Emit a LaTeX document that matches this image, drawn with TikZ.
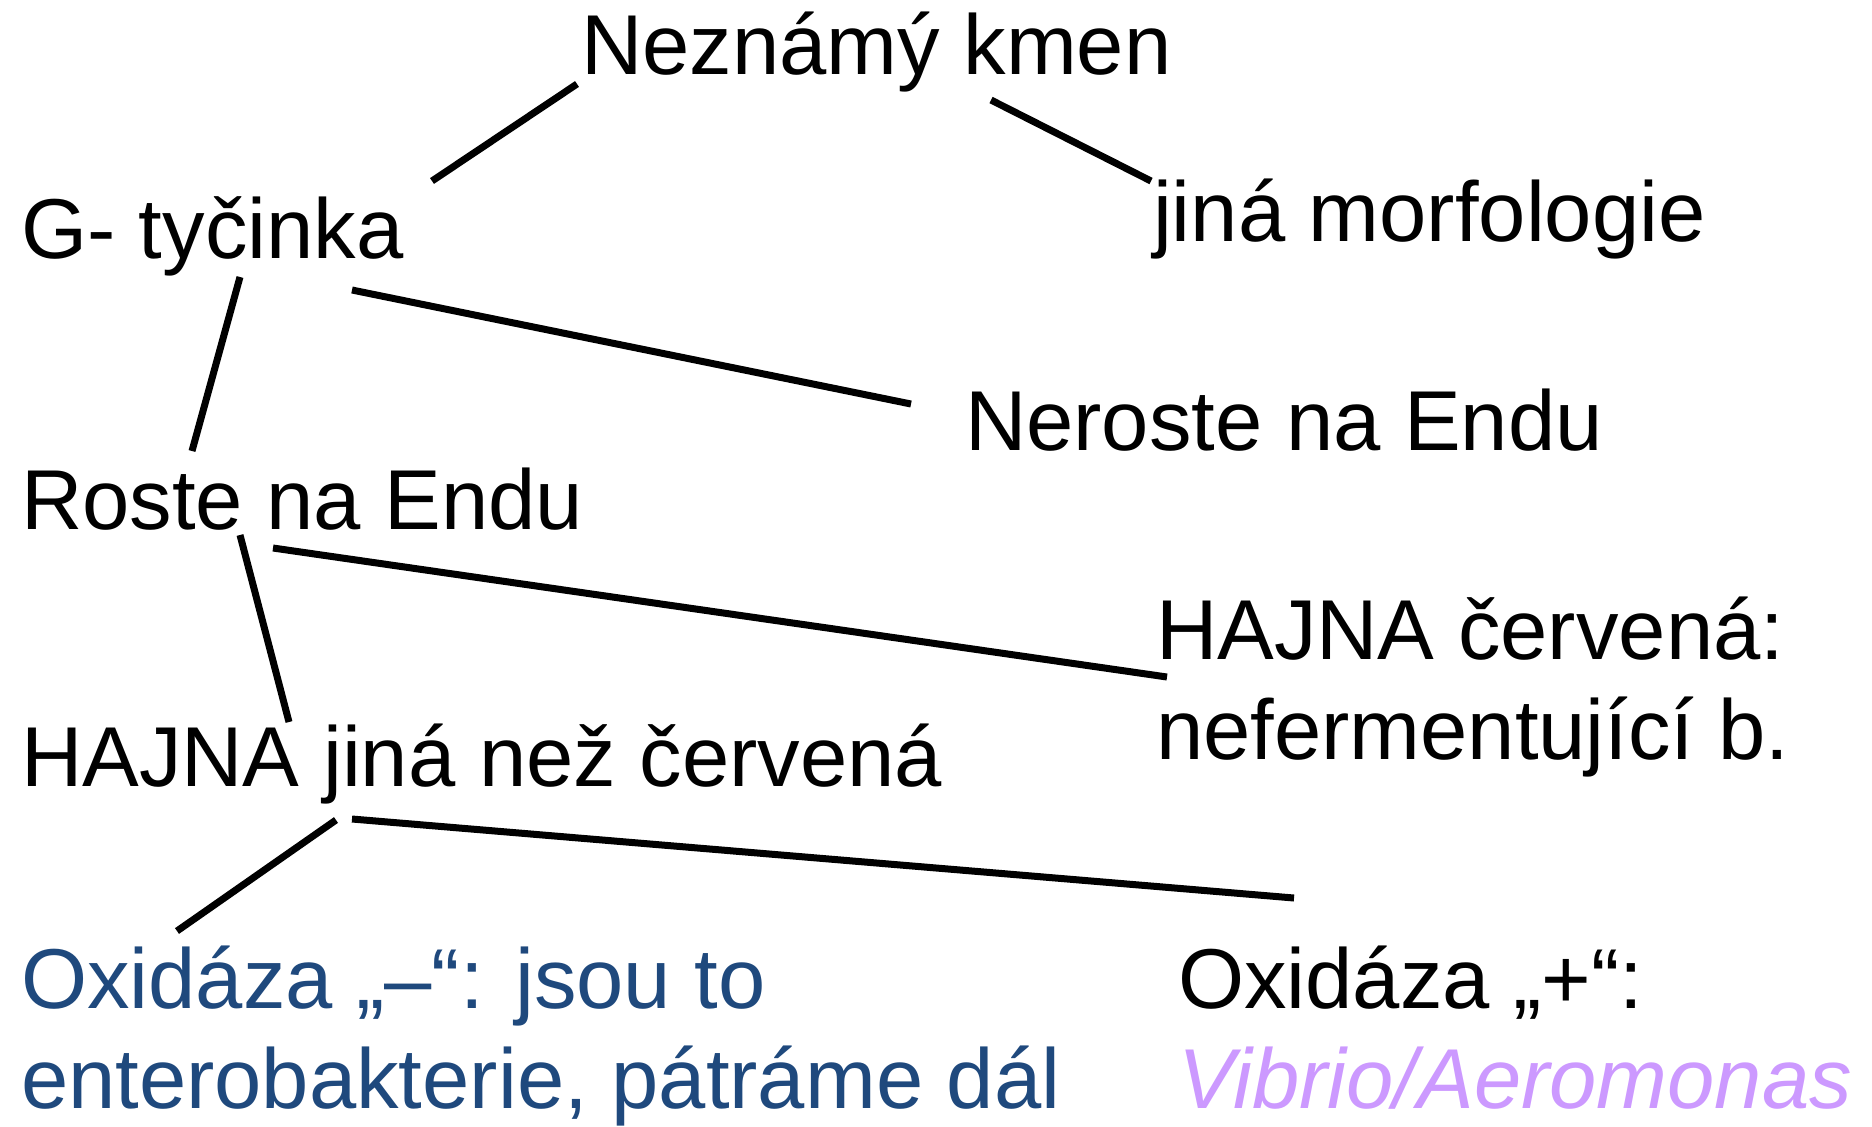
\documentclass[tikz,border=0pt]{standalone}
\usepackage{fontspec}
\setmainfont{Liberation Sans}
\definecolor{darkblue}{HTML}{1F497D}
\definecolor{lilac}{HTML}{CC99FF}
\begin{document}
\begin{tikzpicture}[x=0.5pt,y=-0.5pt,
  lbl/.style={anchor=base west,inner sep=0pt,outer sep=0pt,align=left,font=\fontsize{42.5}{50}\selectfont},
  conn/.style={line width=3.5pt,black}]
\useasboundingbox (0,0) rectangle (1872,1126);
\node[lbl] (root) at (581,74) {Neznámý kmen};
\node[lbl] (g) at (21,258) {G- tyčinka};
\node[lbl] (jina) at (1153,241) {jiná morfologie};
\node[lbl] (nero) at (965,450) {Neroste na Endu};
\node[lbl] (roste) at (21,529) {Roste na Endu};
\node[lbl] (hajnar) at (1156,759) {HAJNA červená:\\nefermentující b.};
\node[lbl] (hajna2) at (21,786) {HAJNA jiná než červená};
\node[lbl,text=darkblue] (oxm) at (21,1108) {Oxidáza „–“: jsou to\\enterobakterie, pátráme dál};
\node[lbl] (oxp) at (1178,1108) {Oxidáza „+“:\\\textcolor{lilac}{\itshape Vibrio/Aeromonas}};
\draw[conn] ([shift={(-4,10)}]root.base west) -- ([shift={(411,-77)}]g.base west);
\draw[conn] ([shift={(410,26)}]root.base west) -- ([shift={(-2,-60)}]jina.base west);
\draw[conn] ([shift={(219,19)}]g.base west) -- ([shift={(171,-78)}]roste.base west);
\draw[conn] ([shift={(331,32)}]g.base west) -- ([shift={(-54,-46)}]nero.base west);
\draw[conn] ([shift={(219,6)}]roste.base west) -- ([shift={(268,-64)}]hajna2.base west);
\draw[conn] ([shift={(252,19)}]roste.base west) -- ([shift={(11,-82)}]hajnar.base west);
\draw[conn] ([shift={(315,34)}]hajna2.base west) -- ([shift={(156,-177)}]oxm.base west);
\draw[conn] ([shift={(331,33)}]hajna2.base west) -- ([shift={(116,-210)}]oxp.base west);
\end{tikzpicture}
\end{document}
